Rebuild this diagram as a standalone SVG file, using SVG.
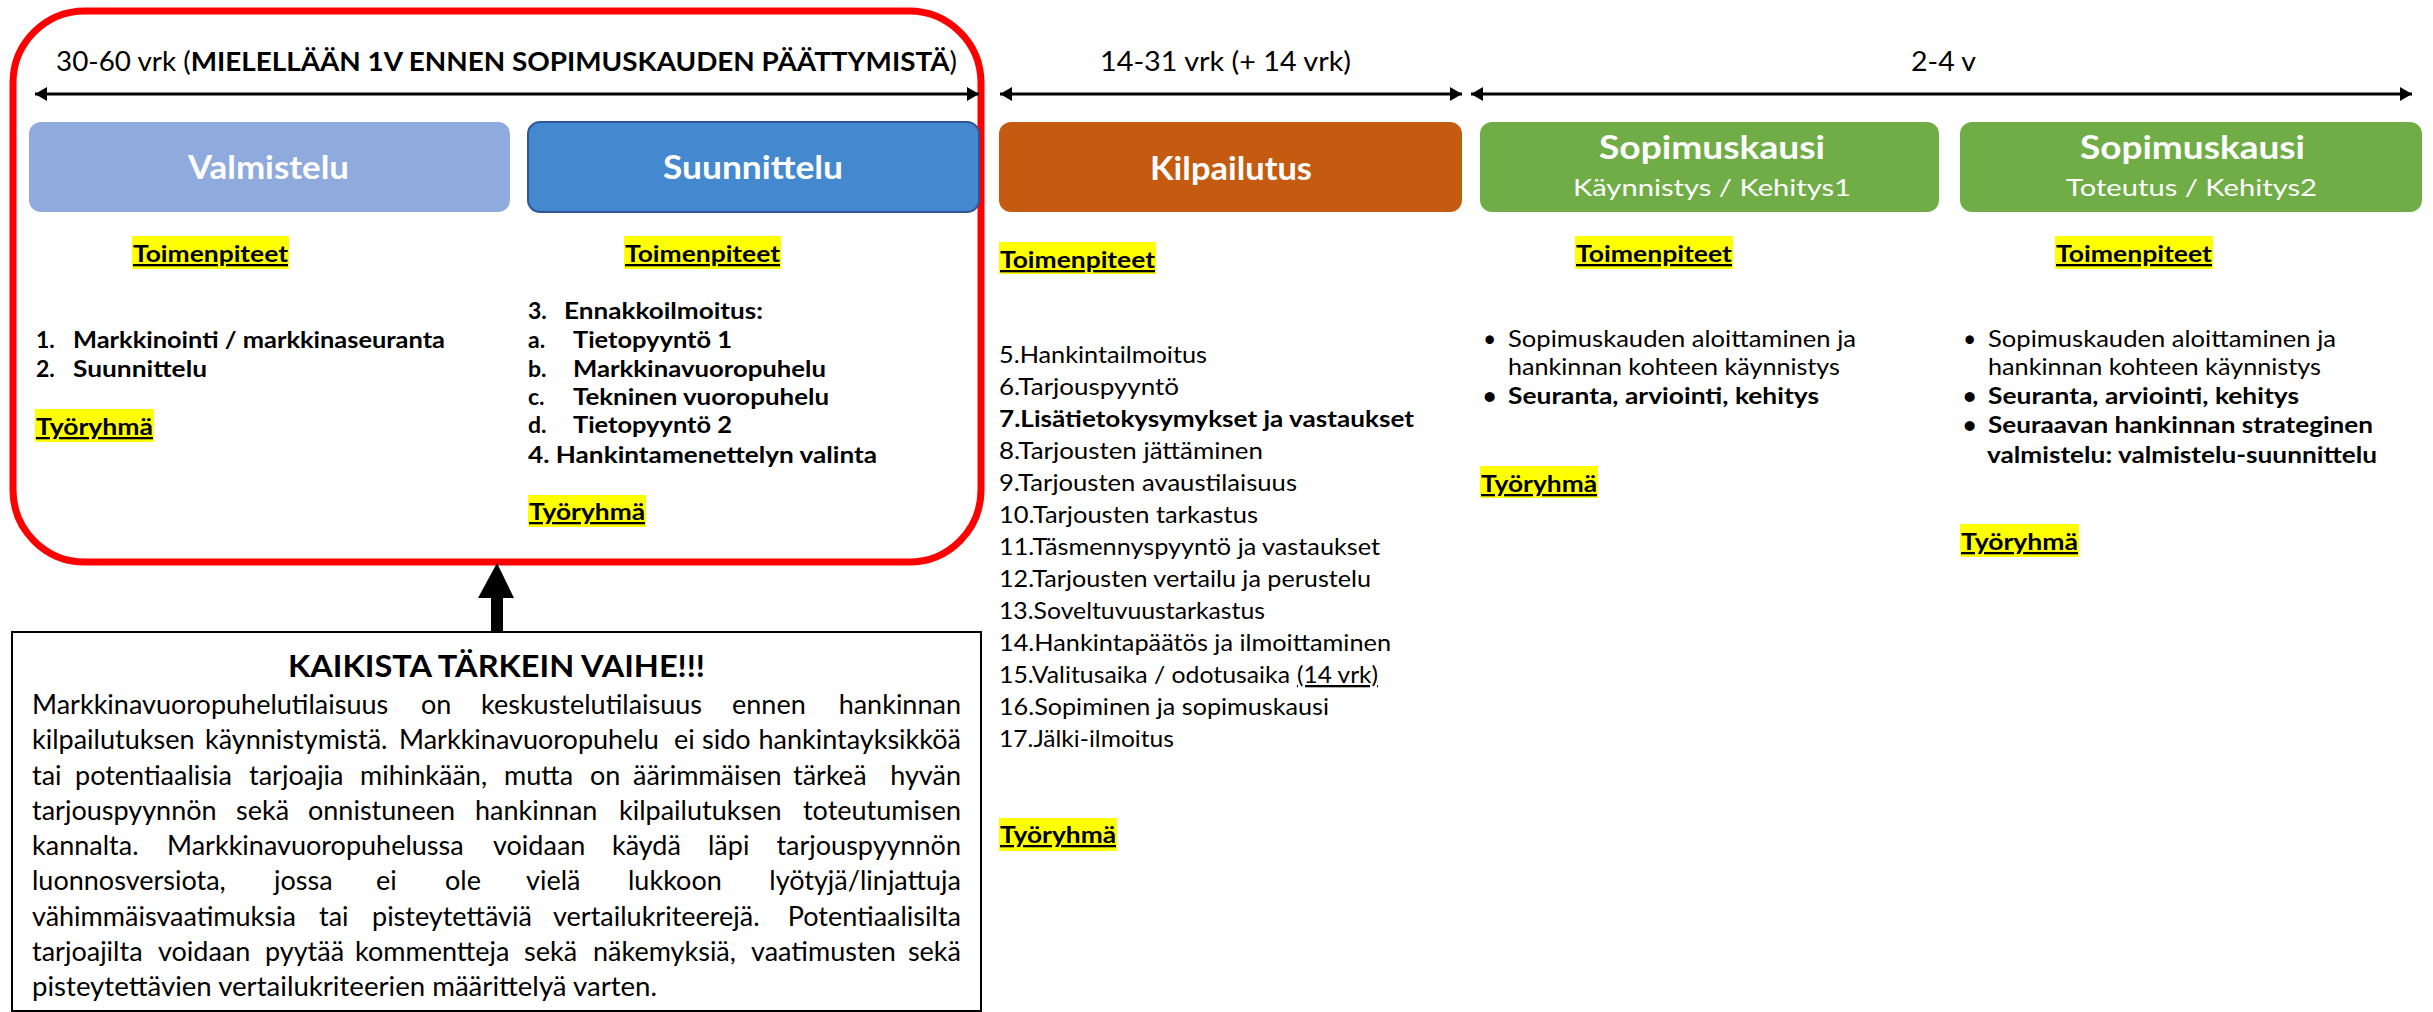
<svg xmlns="http://www.w3.org/2000/svg" width="2433" height="1012" viewBox="0 0 2433 1012">
<defs>
<style>
text{font-family:Lato,"Liberation Sans",sans-serif;fill:#000}
.hdr{font-size:27px}
.ttl{font-size:32px;font-weight:bold;fill:#fff}
.sub{font-size:23px;fill:#fff}
.lbl{font-size:23px;font-weight:bold;text-decoration:underline}
.hl{fill:#FFFF00}
.b{font-size:23px;font-weight:bold}
.r{font-size:23px}
.p{font-size:27px}
.e{text-anchor:end}
.u{text-decoration:underline}
.tl{stroke:#000;stroke-width:3;fill:none;marker-start:url(#ah);marker-end:url(#ah)}
</style>
<marker id="ah" viewBox="0 0 12 14" refX="12" refY="7" markerWidth="12" markerHeight="14" markerUnits="userSpaceOnUse" orient="auto-start-reverse"><path d="M0,0 L12,7 L0,14 z" fill="#000"/></marker>
</defs>
<rect width="2433" height="1012" fill="#fff"/>

<g id="frame">
<rect x="13" y="11" width="968" height="551" rx="72" ry="72" fill="none" stroke="#FF0000" stroke-width="7"/>
</g>

<g id="connectors">
<line class="tl" x1="35" y1="94" x2="979" y2="94"/>
<line class="tl" x1="1000" y1="94" x2="1462" y2="94"/>
<line class="tl" x1="1471" y1="94" x2="2412" y2="94"/>
<rect x="491" y="596" width="12" height="36" fill="#000"/>
<path d="M478,598 L514,598 L497,563 z" fill="#000"/>
</g>

<g id="timeline-labels">
<text class="hdr" x="56" y="71" textLength="901" lengthAdjust="spacingAndGlyphs">30-60 vrk (<tspan font-weight="bold">MIELELLÄÄN 1V ENNEN SOPIMUSKAUDEN PÄÄTTYMISTÄ</tspan>)</text>
<text class="hdr" x="1100" y="71" textLength="251" lengthAdjust="spacingAndGlyphs">14-31 vrk (+ 14 vrk)</text>
<text class="hdr" x="1911" y="71" textLength="65" lengthAdjust="spacingAndGlyphs">2-4 v</text>
</g>

<g id="valmistelu">
<rect x="29" y="122" width="481" height="90" rx="12" fill="#8FAADC"/>
<text class="ttl" x="188" y="179" textLength="161" lengthAdjust="spacingAndGlyphs">Valmistelu</text>
<rect class="hl" x="132" y="236" width="157" height="33"/>
<text class="lbl" x="133" y="262" textLength="155" lengthAdjust="spacingAndGlyphs">Toimenpiteet</text>
<text class="b" x="36" y="348">1.</text>
<text class="b" x="73" y="348" textLength="372" lengthAdjust="spacingAndGlyphs">Markkinointi / markkinaseuranta</text>
<text class="b" x="36" y="377">2.</text>
<text class="b" x="73" y="377" textLength="134" lengthAdjust="spacingAndGlyphs">Suunnittelu</text>
<rect class="hl" x="35" y="409" width="119" height="33"/>
<text class="lbl" x="36" y="435" textLength="117" lengthAdjust="spacingAndGlyphs">Työryhmä</text>
</g>

<g id="suunnittelu">
<rect x="528" y="122" width="451" height="90" rx="12" fill="#4489D0" stroke="#2F5597" stroke-width="2"/>
<text class="ttl" x="663" y="179" textLength="180" lengthAdjust="spacingAndGlyphs">Suunnittelu</text>
<rect class="hl" x="624" y="236" width="157" height="33"/>
<text class="lbl" x="625" y="262" textLength="155" lengthAdjust="spacingAndGlyphs">Toimenpiteet</text>
<text class="b" x="528" y="319">3.</text>
<text class="b" x="564" y="319" textLength="199" lengthAdjust="spacingAndGlyphs">Ennakkoilmoitus:</text>
<text class="b" x="528" y="348">a.</text>
<text class="b" x="573" y="348" textLength="159" lengthAdjust="spacingAndGlyphs">Tietopyyntö 1</text>
<text class="b" x="528" y="377">b.</text>
<text class="b" x="573" y="377" textLength="253" lengthAdjust="spacingAndGlyphs">Markkinavuoropuhelu</text>
<text class="b" x="528" y="405">c.</text>
<text class="b" x="573" y="405" textLength="256" lengthAdjust="spacingAndGlyphs">Tekninen vuoropuhelu</text>
<text class="b" x="528" y="433">d.</text>
<text class="b" x="573" y="433" textLength="159" lengthAdjust="spacingAndGlyphs">Tietopyyntö 2</text>
<text class="b" x="528" y="463" textLength="349" lengthAdjust="spacingAndGlyphs">4. Hankintamenettelyn valinta</text>
<rect class="hl" x="528" y="495" width="118" height="32"/>
<text class="lbl" x="529" y="520" textLength="116" lengthAdjust="spacingAndGlyphs">Työryhmä</text>
</g>

<g id="kilpailutus">
<rect x="999" y="122" width="463" height="90" rx="12" fill="#C55A11"/>
<text class="ttl" x="1150" y="180" textLength="162" lengthAdjust="spacingAndGlyphs">Kilpailutus</text>
<rect class="hl" x="999" y="242" width="157" height="32"/>
<text class="lbl" x="1000" y="268" textLength="155" lengthAdjust="spacingAndGlyphs">Toimenpiteet</text>
<text class="r" x="999" y="363" textLength="208" lengthAdjust="spacingAndGlyphs">5.Hankintailmoitus</text>
<text class="r" x="999" y="395" textLength="180" lengthAdjust="spacingAndGlyphs">6.Tarjouspyyntö</text>
<text class="b" x="999" y="427" textLength="415" lengthAdjust="spacingAndGlyphs">7.Lisätietokysymykset ja vastaukset</text>
<text class="r" x="999" y="459" textLength="264" lengthAdjust="spacingAndGlyphs">8.Tarjousten jättäminen</text>
<text class="r" x="999" y="491" textLength="298" lengthAdjust="spacingAndGlyphs">9.Tarjousten avaustilaisuus</text>
<text class="r" x="999" y="523" textLength="259" lengthAdjust="spacingAndGlyphs">10.Tarjousten tarkastus</text>
<text class="r" x="999" y="555" textLength="381" lengthAdjust="spacingAndGlyphs">11.Täsmennyspyyntö ja vastaukset</text>
<text class="r" x="999" y="587" textLength="372" lengthAdjust="spacingAndGlyphs">12.Tarjousten vertailu ja perustelu</text>
<text class="r" x="999" y="619" textLength="266" lengthAdjust="spacingAndGlyphs">13.Soveltuvuustarkastus</text>
<text class="r" x="999" y="651" textLength="392" lengthAdjust="spacingAndGlyphs">14.Hankintapäätös ja ilmoittaminen</text>
<text class="r" x="999" y="683" textLength="291" lengthAdjust="spacingAndGlyphs">15.Valitusaika / odotusaika</text>
<text class="r u" x="1297" y="683" textLength="81" lengthAdjust="spacingAndGlyphs">(14 vrk)</text>
<text class="r" x="999" y="715" textLength="330" lengthAdjust="spacingAndGlyphs">16.Sopiminen ja sopimuskausi</text>
<text class="r" x="999" y="747" textLength="175" lengthAdjust="spacingAndGlyphs">17.Jälki-ilmoitus</text>
<rect class="hl" x="999" y="818" width="118" height="33"/>
<text class="lbl" x="1000" y="843" textLength="116" lengthAdjust="spacingAndGlyphs">Työryhmä</text>
</g>

<g id="sopimuskausi-1">
<rect x="1480" y="122" width="459" height="90" rx="12" fill="#70AD47"/>
<text class="ttl" x="1599" y="159" textLength="226" lengthAdjust="spacingAndGlyphs">Sopimuskausi</text>
<text class="sub" x="1573" y="196" textLength="278" lengthAdjust="spacingAndGlyphs">Käynnistys / Kehitys1</text>
<rect class="hl" x="1575" y="236" width="158" height="33"/>
<text class="lbl" x="1576" y="262" textLength="156" lengthAdjust="spacingAndGlyphs">Toimenpiteet</text>
<text class="r" x="1483" y="347">•</text>
<text class="r" x="1508" y="347" textLength="348" lengthAdjust="spacingAndGlyphs">Sopimuskauden aloittaminen ja</text>
<text class="r" x="1508" y="375" textLength="332" lengthAdjust="spacingAndGlyphs">hankinnan kohteen käynnistys</text>
<text class="b" x="1483" y="404">•</text>
<text class="b" x="1508" y="404" textLength="311" lengthAdjust="spacingAndGlyphs">Seuranta, arviointi, kehitys</text>
<rect class="hl" x="1480" y="466" width="118" height="32"/>
<text class="lbl" x="1481" y="492" textLength="116" lengthAdjust="spacingAndGlyphs">Työryhmä</text>
</g>

<g id="sopimuskausi-2">
<rect x="1960" y="122" width="462" height="90" rx="12" fill="#70AD47"/>
<text class="ttl" x="2080" y="159" textLength="225" lengthAdjust="spacingAndGlyphs">Sopimuskausi</text>
<text class="sub" x="2066" y="196" textLength="251" lengthAdjust="spacingAndGlyphs">Toteutus / Kehitys2</text>
<rect class="hl" x="2055" y="236" width="158" height="33"/>
<text class="lbl" x="2056" y="262" textLength="156" lengthAdjust="spacingAndGlyphs">Toimenpiteet</text>
<text class="r" x="1963" y="347">•</text>
<text class="r" x="1988" y="347" textLength="348" lengthAdjust="spacingAndGlyphs">Sopimuskauden aloittaminen ja</text>
<text class="r" x="1988" y="375" textLength="333" lengthAdjust="spacingAndGlyphs">hankinnan kohteen käynnistys</text>
<text class="b" x="1963" y="404">•</text>
<text class="b" x="1988" y="404" textLength="311" lengthAdjust="spacingAndGlyphs">Seuranta, arviointi, kehitys</text>
<text class="b" x="1963" y="433">•</text>
<text class="b" x="1988" y="433" textLength="385" lengthAdjust="spacingAndGlyphs">Seuraavan hankinnan strateginen</text>
<text class="b" x="1987" y="463" textLength="390" lengthAdjust="spacingAndGlyphs">valmistelu: valmistelu-suunnittelu</text>
<rect class="hl" x="1960" y="524" width="119" height="33"/>
<text class="lbl" x="1961" y="550" textLength="117" lengthAdjust="spacingAndGlyphs">Työryhmä</text>
</g>

<g id="note">
<rect x="12" y="632" width="969" height="379" fill="#fff" stroke="#000" stroke-width="2"/>
<text x="288" y="677" font-size="31" font-weight="bold" textLength="417" lengthAdjust="spacingAndGlyphs">KAIKISTA TÄRKEIN VAIHE!!!</text>
<text class="p" y="714"><tspan x="32">Markkinavuoropuhelutilaisuus</tspan><tspan x="421">on</tspan><tspan x="481">keskustelutilaisuus</tspan><tspan x="732">ennen</tspan></text>
<text class="p e" x="961" y="714">hankinnan</text>
<text class="p" y="749"><tspan x="32">kilpailutuksen</tspan><tspan x="205">käynnistymistä.</tspan><tspan x="399">Markkinavuoropuhelu</tspan><tspan x="674">ei</tspan><tspan x="702">sido</tspan></text>
<text class="p e" x="961" y="749">hankintayksikköä</text>
<text class="p" y="785"><tspan x="32">tai</tspan><tspan x="75">potentiaalisia</tspan><tspan x="249">tarjoajia</tspan><tspan x="360">mihinkään,</tspan><tspan x="504">mutta</tspan><tspan x="590">on</tspan><tspan x="633">äärimmäisen</tspan><tspan x="793">tärkeä</tspan></text>
<text class="p e" x="961" y="785">hyvän</text>
<text class="p" y="820"><tspan x="32">tarjouspyynnön</tspan><tspan x="236">sekä</tspan><tspan x="308">onnistuneen</tspan><tspan x="475">hankinnan</tspan><tspan x="619">kilpailutuksen</tspan></text>
<text class="p e" x="961" y="820">toteutumisen</text>
<text class="p" y="855"><tspan x="32">kannalta.</tspan><tspan x="167">Markkinavuoropuhelussa</tspan><tspan x="493">voidaan</tspan><tspan x="612">käydä</tspan><tspan x="708">läpi</tspan></text>
<text class="p e" x="961" y="855">tarjouspyynnön</text>
<text class="p" y="890"><tspan x="32">luonnosversiota,</tspan><tspan x="274">jossa</tspan><tspan x="376">ei</tspan><tspan x="445">ole</tspan><tspan x="526">vielä</tspan><tspan x="628">lukkoon</tspan></text>
<text class="p e" x="961" y="890">lyötyjä/linjattuja</text>
<text class="p" y="926"><tspan x="32">vähimmäisvaatimuksia</tspan><tspan x="319">tai</tspan><tspan x="372">pisteytettäviä</tspan><tspan x="553">vertailukriteerejä.</tspan></text>
<text class="p e" x="961" y="926">Potentiaalisilta</text>
<text class="p" y="961"><tspan x="32">tarjoajilta</tspan><tspan x="158">voidaan</tspan><tspan x="265">pyytää</tspan><tspan x="355">kommentteja</tspan><tspan x="524">sekä</tspan><tspan x="593">näkemyksiä,</tspan><tspan x="751">vaatimusten</tspan></text>
<text class="p e" x="961" y="961">sekä</text>
<text class="p" x="32" y="996" textLength="625" lengthAdjust="spacingAndGlyphs">pisteytettävien vertailukriteerien määrittelyä varten.</text>
</g>
</svg>
